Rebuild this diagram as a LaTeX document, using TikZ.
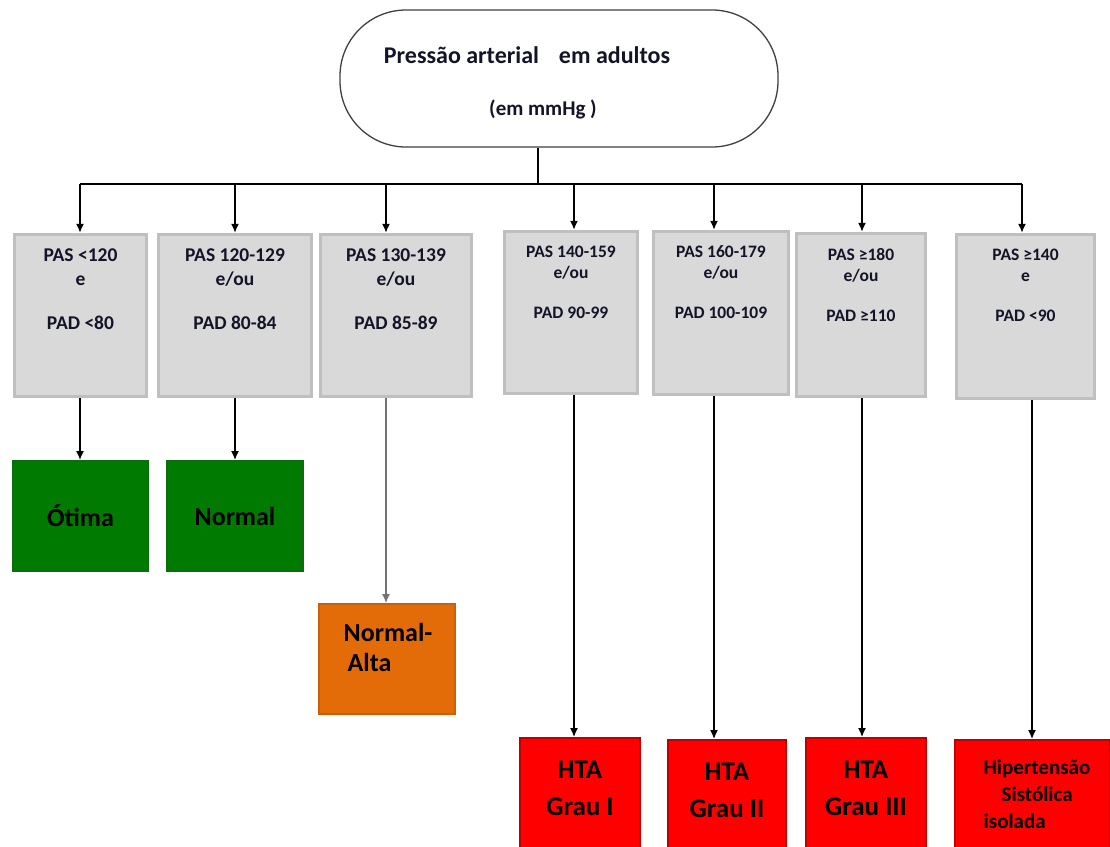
\documentclass[tikz,border=0pt]{standalone}
\usepackage{fontspec}
\setmainfont{Carlito}
\usepackage{tikz}
\usetikzlibrary{arrows.meta,positioning}
\definecolor{boxgray}{HTML}{D9D9D9}
\definecolor{edgegray}{HTML}{BFBFBF}
\definecolor{okgreen}{HTML}{007A00}
\definecolor{okedge}{HTML}{0B6E0B}
\definecolor{highorange}{HTML}{E36C09}
\definecolor{highedge}{HTML}{C9600A}
\definecolor{htared}{HTML}{FF0000}
\definecolor{htaedge}{HTML}{C00000}
\definecolor{inktext}{HTML}{141428}
\tikzset{
    title-box/.style = {draw=black!75, fill=white, line width=1.3pt, rectangle, rounded corners=66pt, minimum width=438pt, minimum height=137pt},
    title-text/.style = {font=\bfseries\fontsize{24}{28}\selectfont, text=inktext, inner sep=0pt},
    unit-text/.style = {font=\bfseries\fontsize{21}{24}\selectfont, text=inktext, inner sep=0pt},
    range-box/.style = {draw=edgegray, fill=boxgray, line width=3.5pt, rectangle, inner sep=0pt},
    range-text/.style = {font=\bfseries\fontsize{19.5}{24}\selectfont, text=inktext, align=center, inner sep=0pt},
    range-small/.style = {range-text, font=\bfseries\fontsize{17.5}{21}\selectfont},
    class-box/.style = {rectangle, line width=2pt, inner sep=0pt, minimum height=110pt},
    ok-box/.style = {class-box, draw=okedge, fill=okgreen, font=\bfseries\fontsize{26}{30}\selectfont},
    high-box/.style = {class-box, draw=highedge, fill=highorange},
    high-text/.style = {font=\bfseries\fontsize{26}{30}\selectfont, align=left, inner sep=0pt},
    hta-box/.style = {class-box, draw=htaedge, fill=htared, minimum height=130pt},
    hta-text/.style = {font=\bfseries\fontsize{27}{37}\selectfont, align=center, inner sep=0pt},
    link/.style = {draw=black, line width=1.4pt},
    arrow/.style = {link, -{Latex[length=9pt,width=8pt]}},
}
\begin{document}
\begin{tikzpicture}[x=1pt, y=-1pt]
\useasboundingbox (0,0) rectangle (1110,846);

% raiz
\node[title-box] (pa) at (559,78.5) {};
\node[title-text] (pa-l1) at (527,55) {Pressão arterial\hspace{20pt}em adultos};
\node[unit-text] (pa-l2) at (543,109) {(em mmHg )};

% faixas de valores
\node[range-box, minimum width=132pt, minimum height=162pt] (c1) at (80.5,315.5) {};
\node[range-box, minimum width=153pt, minimum height=162pt] (c2) at (235,315.5) {};
\node[range-box, minimum width=151pt, minimum height=162pt] (c3) at (396,315.5) {};
\node[range-box, minimum width=133pt, minimum height=162pt] (c4) at (571,312.5) {};
\node[range-box, minimum width=135pt, minimum height=163pt] (c5) at (721,313) {};
\node[range-box, minimum width=129pt, minimum height=163pt] (c6) at (861,315) {};
\node[range-box, minimum width=138pt, minimum height=164pt] (c7) at (1025.5,316.5) {};

\node[range-text, below=16pt of c1.north] (c1-t) {PAS <120\\e\\[20pt]PAD <80};
\node[range-text, below=16pt of c2.north] (c2-t) {PAS 120-129\\e/ou\\[20pt]PAD 80-84};
\node[range-text, below=16pt of c3.north] (c3-t) {PAS 130-139\\e/ou\\[20pt]PAD 85-89};
\node[range-small, below=16pt of c4.north] (c4-t) {PAS 140-159\\e/ou\\[19pt]PAD 90-99};
\node[range-small, below=16pt of c5.north] (c5-t) {PAS 160-179\\e/ou\\[19pt]PAD 100-109};
\node[range-small, below=16pt of c6.north] (c6-t) {PAS ≥180\\e/ou\\[19pt]PAD ≥110};
\node[range-small, below=16pt of c7.north] (c7-t) {PAS ≥140\\e\\[19pt]PAD <90};

% classificacao
\node[ok-box, minimum width=135pt] (r1) at (80.5,516) {Ótima};
\node[ok-box, minimum width=136pt] (r2) at (235,516) {Normal};
\node[high-box, minimum width=136pt] (r3) at (387,659) {};
\node[high-text] (r3-t) at (388,647) {Normal-\\\hspace*{4pt}Alta};
\node[hta-box, minimum width=120pt] (r4) at (580,803) {};
\node[hta-box, minimum width=118pt] (r5) at (727,805) {};
\node[hta-box, minimum width=120pt] (r6) at (866,803) {};
\node[hta-box, minimum width=155pt] (r7) at (1032.5,805) {};
\node[hta-text] (r4-t) at (580,788) {HTA\\Grau I};
\node[hta-text] (r5-t) at (727,790) {HTA\\Grau II};
\node[hta-text] (r6-t) at (866,788) {HTA\\Grau III};
\node[hta-text, font=\bfseries\fontsize{21}{27}\selectfont, align=left] (r7-t) at (1037,794) {Hipertensão\\\hspace*{18pt}Sistólica\\isolada};

% ligacoes
\coordinate (hub) at (538,184);
\draw[link] (pa.south -| hub) -- (hub);
\foreach \i/\xa/\xb in {1/80/80, 2/235/235, 3/386/386, 4/574/574, 5/714/714, 6/862/862, 7/1022/1032} {
    \coordinate (t\i) at (\xa,184);
    \coordinate (b\i) at (\xb,400);
}
\draw[link] (t1) -- (t7);
\foreach \i in {1,...,7}
    \draw[arrow] (t\i) -- (t\i |- c\i.north);
\foreach \i/\c in {1/black, 2/black, 3/black!55, 4/black, 5/black, 6/black, 7/black}
    \draw[arrow, draw=\c] (b\i |- c\i.south) -- (b\i |- r\i.north);
\end{tikzpicture}
\end{document}
